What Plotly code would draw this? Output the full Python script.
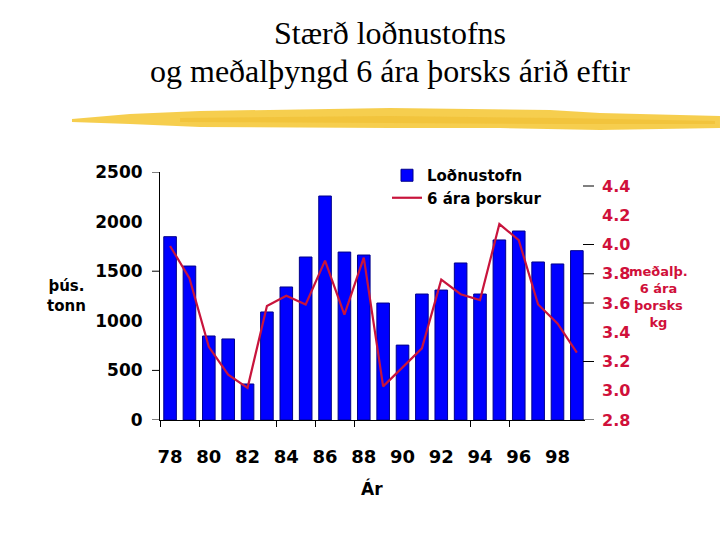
import plotly.graph_objects as go

years = list(range(78, 100))
lodna = [1848, 1552, 847, 817, 363, 1089, 1341, 1643, 2258, 1693, 1663,
         1179, 755, 1270, 1310, 1583, 1270, 1815, 1905, 1593, 1573, 1707]
thorskur = [3.99, 3.77, 3.30, 3.11, 3.02, 3.58, 3.65, 3.59, 3.89, 3.52, 3.91,
            3.03, 3.16, 3.29, 3.76, 3.66, 3.62, 4.14, 4.03, 3.59, 3.46, 3.26]
x_tickvals = list(range(78, 100, 2))
x_ticktext = [str(v) for v in x_tickvals]
x_marks = [77.5, 79.5, 83.5, 85.5, 87.5, 93.5, 95.5]
left_ticks = [0, 500, 1000, 1500, 2000, 2500]
left_marks = [0, 500, 1500, 2500]
right_ticks = [2.8, 3.0, 3.2, 3.4, 3.6, 3.8, 4.0, 4.2, 4.4]
right_marks = [2.8, 3.2, 3.6, 3.8, 4.0, 4.4]

RED = "#D0103A"
LINE = "#C8143C"
BOLD = dict(family="DejaVu Sans", size=17, color="black", weight="bold")

# plot area in pixels
L, R, T, B = 160, 585, 172, 420
W, H = R - L, B - T


def px(x, y):
    return (x - L) / W, (B - y) / H


fig = go.Figure()
fig.add_trace(go.Bar(x=years, y=lodna, name="Loðnustofn",
                     marker=dict(color="#0000FF", line=dict(color="#00008B", width=1)),
                     yaxis="y"))
fig.add_trace(go.Scatter(x=years, y=thorskur, name="6 ára þorskur", mode="lines",
                         line=dict(color=LINE, width=2.2), yaxis="y2"))


# yellow brush stroke
def brush(pts, color, op):
    p = [px(x, y) for x, y in pts]
    d = "M " + " L ".join(f"{a:.4f},{b:.4f}" for a, b in p) + " Z"
    fig.add_shape(type="path", path=d, xref="paper", yref="paper",
                  fillcolor=color, line=dict(width=0), opacity=op, layer="above")


brush([(72, 119), (130, 114), (200, 111), (390, 108), (550, 110), (600, 113), (720, 116),
       (720, 128), (600, 130), (500, 128), (390, 128), (200, 127), (130, 124), (72, 122)],
      "#F5CB45", 0.95)
brush([(180, 118), (390, 116), (560, 118), (715, 121),
       (715, 124), (560, 124), (390, 123), (180, 122)], "#EDB928", 0.45)

# axis tick marks at selected values (drawn against the axes' own scales)
for v in left_marks:
    fig.add_shape(type="line", xref="paper", yref="y", x0=-8 / W, x1=0, y0=v, y1=v,
                  line=dict(color="black", width=1))
for v in right_marks:
    fig.add_shape(type="line", xref="paper", yref="y2", x0=1 - 2 / W, x1=1 + 9 / W,
                  y0=v, y1=v, line=dict(color="black", width=1))

right_y_max = 2.8 + H / 146.25

fig.update_layout(
    width=720, height=540,
    margin=dict(l=L, r=720 - R, t=T, b=540 - B, autoexpand=False),
    paper_bgcolor="white", plot_bgcolor="white",
    bargap=0.35,
    showlegend=True,
    legend=dict(x=px(387, 0)[0], y=px(0, 159)[1], xanchor="left", yanchor="top",
                bgcolor="rgba(0,0,0,0)", font=dict(family="DejaVu Sans", size=15,
                                                   color="black", weight="bold"),
                tracegroupgap=0, itemwidth=30),
    xaxis=dict(range=[77.48, 99.42], tickvals=x_tickvals, ticktext=x_ticktext,
               showline=True, linecolor="black", linewidth=1, ticks="",
               minor=dict(tickvals=x_marks, ticks="outside", ticklen=6,
                          tickcolor="black", showgrid=False),
               showgrid=False, zeroline=False, tickfont=dict(BOLD, size=18),
               ticklabelstandoff=20, automargin=False),
    yaxis=dict(range=[0, 2500], tickvals=left_ticks, showline=True, linecolor="black",
               linewidth=1, ticks="", showgrid=False, zeroline=False, tickfont=BOLD,
               ticklabelstandoff=13, automargin=False),
    yaxis2=dict(range=[2.8, right_y_max], overlaying="y", side="right",
                tickvals=right_ticks, ticktext=[f"{v:.1f}" for v in right_ticks],
                ticks="", showline=False, showgrid=False, zeroline=False,
                tickfont=dict(family="DejaVu Sans", size=16, color=RED, weight="bold"),
                ticklabelstandoff=16, automargin=False),
)

TFONT = dict(family="Liberation Serif", size=32, color="black")
for txt, yy in [("Stærð loðnustofns", 33), ("og meðalþyngd 6 ára þorsks árið eftir", 71)]:
    a = px(390, yy)
    fig.add_annotation(x=a[0], y=a[1], xref="paper", yref="paper", text=txt,
                       showarrow=False, xanchor="center", yanchor="middle", font=TFONT)

a = px(66, 296)
fig.add_annotation(x=a[0], y=a[1], xref="paper", yref="paper", text="þús.<br>tonn",
                   showarrow=False, xanchor="center", yanchor="middle",
                   font=dict(family="DejaVu Sans", size=15, color="black", weight="bold"))
a = px(658, 297)
fig.add_annotation(x=a[0], y=a[1], xref="paper", yref="paper",
                   text="meðalþ.<br>6 ára<br>þorsks<br>kg",
                   showarrow=False, xanchor="center", yanchor="middle",
                   font=dict(family="DejaVu Sans", size=13, color=RED, weight="bold"))
a = px(372, 488)
fig.add_annotation(x=a[0], y=a[1], xref="paper", yref="paper", text="Ár",
                   showarrow=False, xanchor="center", yanchor="middle",
                   font=dict(family="DejaVu Sans", size=17, color="black", weight="bold"))

fig.write_html("out.html", config={"displayModeBar": False},
               post_script="document.body.style.margin='0';")
